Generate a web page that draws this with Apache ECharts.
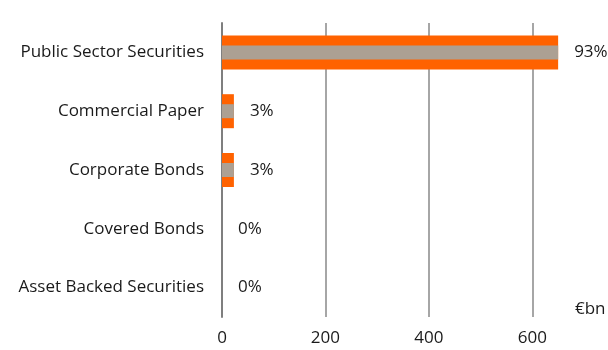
<!DOCTYPE html>
<html>
<head>
<meta charset="utf-8">
<script src="https://cdn.jsdelivr.net/npm/echarts@6/dist/echarts.min.js"></script>
<style>
  html, body { margin: 0; padding: 0; background: #fff; }
  #chart { width: 608px; height: 350px; }
</style>
</head>
<body>
<div id="chart"></div>
<script>
// categories top to bottom
const categories = ['Public Sector Securities', 'Commercial Paper', 'Corporate Bonds', 'Covered Bonds', 'Asset Backed Securities']
// holdings, €bn
const holdings = [650, 23, 23, 0, 0]
// share of total
const shares = ['93%', '3%', '3%', '0%', '0%']
const xTicks = [0, 200, 400, 600]

const font = 'Open Sans'
const fs = 17
const chart = echarts.init(document.getElementById('chart'))

const option = {
  animation: false,
  grid: { left: 222, right: 24, top: 23, bottom: 33 },
  xAxis: {
    type: 'value',
    min: 0,
    max: 700,
    interval: 200,
    axisLine: { show: false },
    axisTick: { show: false },
    axisLabel: {
      showMaxLabel: false,
      margin: 13,
      color: '#1a1a1a',
      fontFamily: font,
      fontSize: fs,
      formatter: v => (xTicks.indexOf(v) >= 0 ? v : '')
    },
    splitLine: { showMaxLine: false, lineStyle: { color: '#a6a6a6', width: 2 } }
  },
  yAxis: [
    {
      type: 'category',
      inverse: true,
      data: categories,
      axisLine: { lineStyle: { color: '#7f7f7f', width: 2 } },
      axisTick: { length: 5, lineStyle: { color: '#7f7f7f', width: 2 } },
      axisLabel: { margin: 18, color: '#1a1a1a', fontFamily: font, fontSize: fs }
    },
    {
      // hidden twin axis so the inner grey bar sits centred in the orange one
      type: 'category',
      inverse: true,
      data: categories,
      position: 'left',
      show: false
    }
  ],
  series: [
    {
      type: 'bar',
      data: holdings,
      barWidth: 34,
      itemStyle: { color: '#ff6200' },
      label: {
        show: true,
        position: 'right',
        distance: 16,
        color: '#1a1a1a',
        fontFamily: font,
        fontSize: fs,
        formatter: p => shares[p.dataIndex]
      }
    },
    {
      type: 'bar',
      yAxisIndex: 1,
      data: holdings,
      barWidth: 14,
      itemStyle: { color: '#aca093' }
    }
  ],
  graphic: [{
    type: 'text',
    left: 575,
    top: 301,
    style: { text: '€bn', fill: '#1a1a1a', font: fs + 'px "' + font + '"' }
  }]
}

chart.setOption(option)
</script>
</body>
</html>
